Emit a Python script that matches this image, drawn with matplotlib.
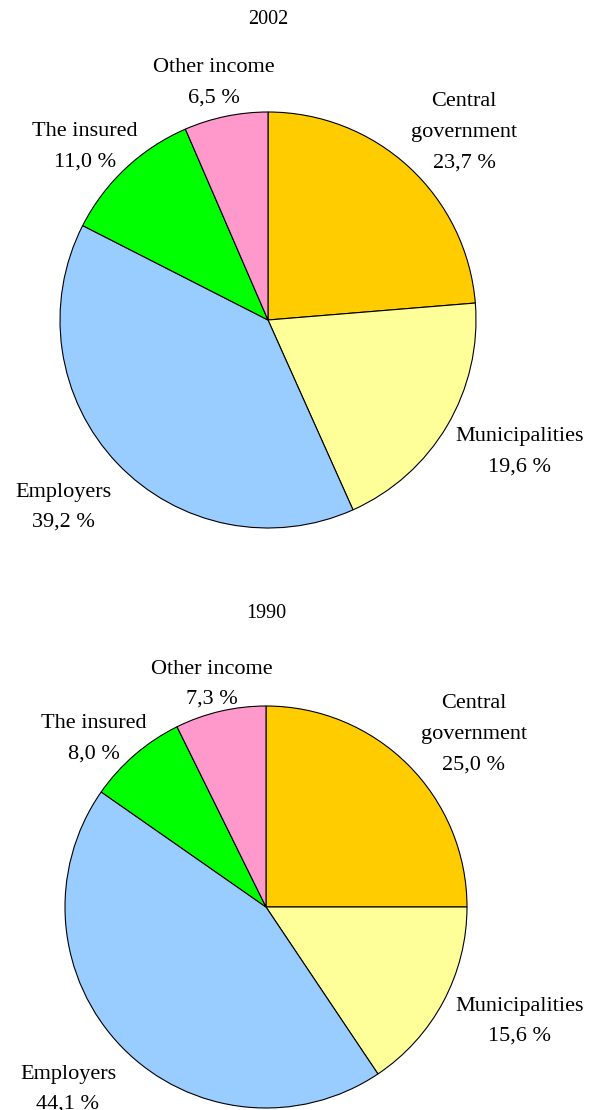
import matplotlib
matplotlib.use("Agg")
import matplotlib.pyplot as plt

categories = ["Central\ngovernment", "Municipalities", "Employers", "The insured", "Other income"]
values_2002 = [23.7, 19.6, 39.2, 11.0, 6.5]
values_1990 = [25.0, 15.6, 44.1, 8.0, 7.3]
years = ["2002", "1990"]
colors = ["#FFCC00", "#FFFF99", "#99CCFF", "#00FF00", "#FF99CC"]

W, H = 589, 1110
plt.rcParams['font.family'] = ['Liberation Serif', 'DejaVu Serif']

fig = plt.figure(figsize=(W / 100, H / 100), dpi=100)
ax = fig.add_axes([0, 0, 1, 1])
ax.set_xlim(0, W)
ax.set_ylim(0, H)
ax.axis("off")

def fmt(v):
    return f"{v:.1f}".replace(".", ",") + " %"

layouts = [
    dict(cx=268, cy=320, r=208, title=(268, 20),
         labels=[(464, 102), (520, 437), (63, 492), (85, 132), (214, 68)]),
    dict(cx=266, cy=907, r=201, title=(266, 614),
         labels=[(474, 704), (520, 1006), (68, 1074), (94, 724), (212, 669)]),
]

line_h = 30.5
for vals, year, lay in zip([values_2002, values_1990], years, layouts):
    ax.pie(vals, colors=colors, startangle=90, counterclock=False,
           center=(lay["cx"], H - lay["cy"]), radius=lay["r"],
           wedgeprops=dict(edgecolor="black", linewidth=0.8))
    tx, ty = lay["title"]
    ax.text(tx, H - ty, year, ha="center", va="center", fontsize=14.5)
    for cat, v, (lx, ly) in zip(categories, vals, lay["labels"]):
        lines = (cat + "\n" + fmt(v)).split("\n")
        for i, ln in enumerate(lines):
            ax.text(lx, H - (ly + i * line_h), ln, ha="center", va="center",
                    fontsize=16)

ax.set_xlim(0, W)
ax.set_ylim(0, H)
ax.set_aspect("auto")
fig.savefig("out.png", dpi=100)
